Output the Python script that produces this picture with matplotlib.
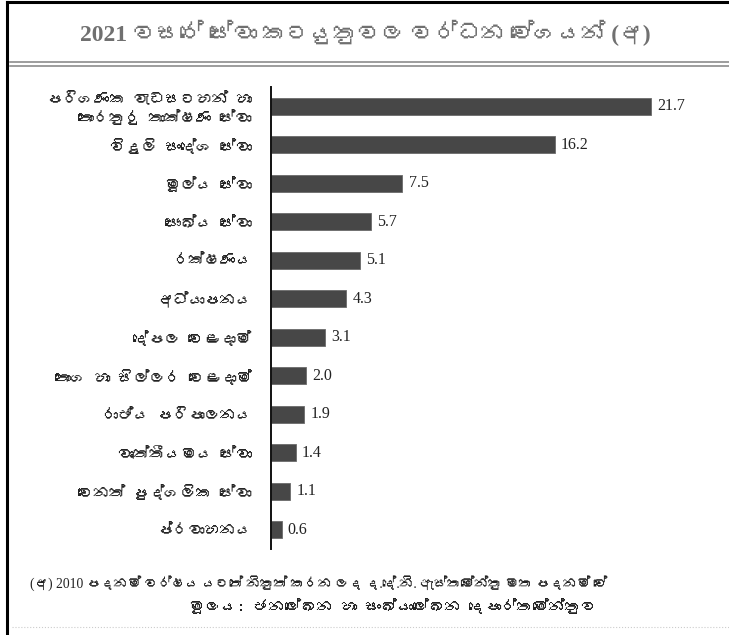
import matplotlib
matplotlib.use("Agg")
import matplotlib.pyplot as plt
from matplotlib import font_manager
from matplotlib.ft2font import FT2Font
from matplotlib.lines import Line2D

# Données
labels = [
    "පරිගණක වැඩසටහන් හා\nතොරතුරු තාක්ෂණ සේවා",
    "විදුලි සංදේශ සේවා",
    "මූල්‍ය සේවා",
    "සෞඛ්‍ය සේවා",
    "රක්ෂණය",
    "අධ්‍යාපනය",
    "දේපල වෙළදාම්",
    "තොග හා සිල්ලර වෙළදාම්",
    "රාජ්‍ය පරිපාලනය",
    "වෘත්තීයමය සේවා",
    "වෙනත් පුද්ගලික සේවා",
    "ප්‍රවාහනය",
]
values = [21.7, 16.2, 7.5, 5.7, 5.1, 4.3, 3.1, 2.0, 1.9, 1.4, 1.1, 0.6]

title = "2021 වසරේ සේවා කටයුතුවල වර්ධන වේගයන් (අ)"
note = "(අ) 2010 පදනම් වර්ෂය යටතේ නිකුත් කරන ලද ද.දේ.නි. ඇස්තමේන්තු මත පදනම් වේ"
source = "මූලය: ජනලේඛන හා සංඛ්‍යාලේඛන දෙපාර්තමේන්තුව"


# matplotlib ne fait pas le shaping : le ZWJ s'affiche comme une boîte
def clean(s):
    return s.replace("\u200d", "")


# Cherche une police qui contient le cinghalais, sinon DejaVu
sinhala = None
for path in sorted(font_manager.findSystemFonts()):
    try:
        if 0x0DC3 in FT2Font(path).get_charmap():
            sinhala = font_manager.FontProperties(fname=path).get_name()
            break
    except Exception:
        pass
fam = [sinhala, "DejaVu Sans"] if sinhala else ["DejaVu Sans"]
plt.rcParams["font.family"] = fam

fig = plt.figure(figsize=(7.29, 6.35), dpi=100)
W, H = 729, 635

# Cadre noir (gauche + haut) et pointillé intérieur
fig.add_artist(Line2D([7 / W, 7 / W], [0, 1 - 2 / H], color="black", lw=2.2))
fig.add_artist(Line2D([7 / W, 1], [1 - 2 / H, 1 - 2 / H], color="black", lw=2.2))
fig.add_artist(Line2D([12 / W, 1], [1 - 627 / H, 1 - 627 / H], color="#cccccc", lw=0.8, ls=":"))

# Titre + double ligne
fig.text(365 / W, 1 - 33 / H, clean(title), ha="center", va="center", fontsize=17,
         fontweight="bold", color="#707070", family=["Liberation Serif"] + fam)
for y in (62, 66):
    fig.add_artist(Line2D([10 / W, 1], [1 - y / H, 1 - y / H], color="#8c8c8c", lw=1.2))

ax = fig.add_axes([271 / W, 1 - 549 / H, 438 / W, 462 / H])
pos = list(range(len(values)))
ax.barh(pos, values, height=0.44, color="#474747", edgecolor="#6a6a6a", lw=0.6)
for p, v in zip(pos, values):
    ax.text(v + 0.35, p, f"{v:.1f}", va="center", ha="left", fontsize=11.5,
            family="Liberation Serif", color="#222222")

ax.set_xlim(0, 25)
ax.set_ylim(len(values) - 0.5, -0.5)
ax.set_yticks(pos)
ax.set_yticklabels([clean(l) for l in labels], fontsize=11.3, color="#222222")
ax.tick_params(axis="y", length=0, pad=14)
ax.set_xticks([])
for s in ("top", "right", "bottom"):
    ax.spines[s].set_visible(False)
ax.spines["left"].set_linewidth(1.4)
ax.spines["left"].set_color("#111111")

# Notes de bas
fig.text(30 / W, 1 - 583 / H, clean(note), ha="left", va="center", fontsize=9.8, color="#222222",
         family=["Liberation Serif"] + fam)
fig.text(597 / W, 1 - 606 / H, clean(source), ha="right", va="center", fontsize=11.5, color="#222222")

fig.savefig("out.png", dpi=100)
